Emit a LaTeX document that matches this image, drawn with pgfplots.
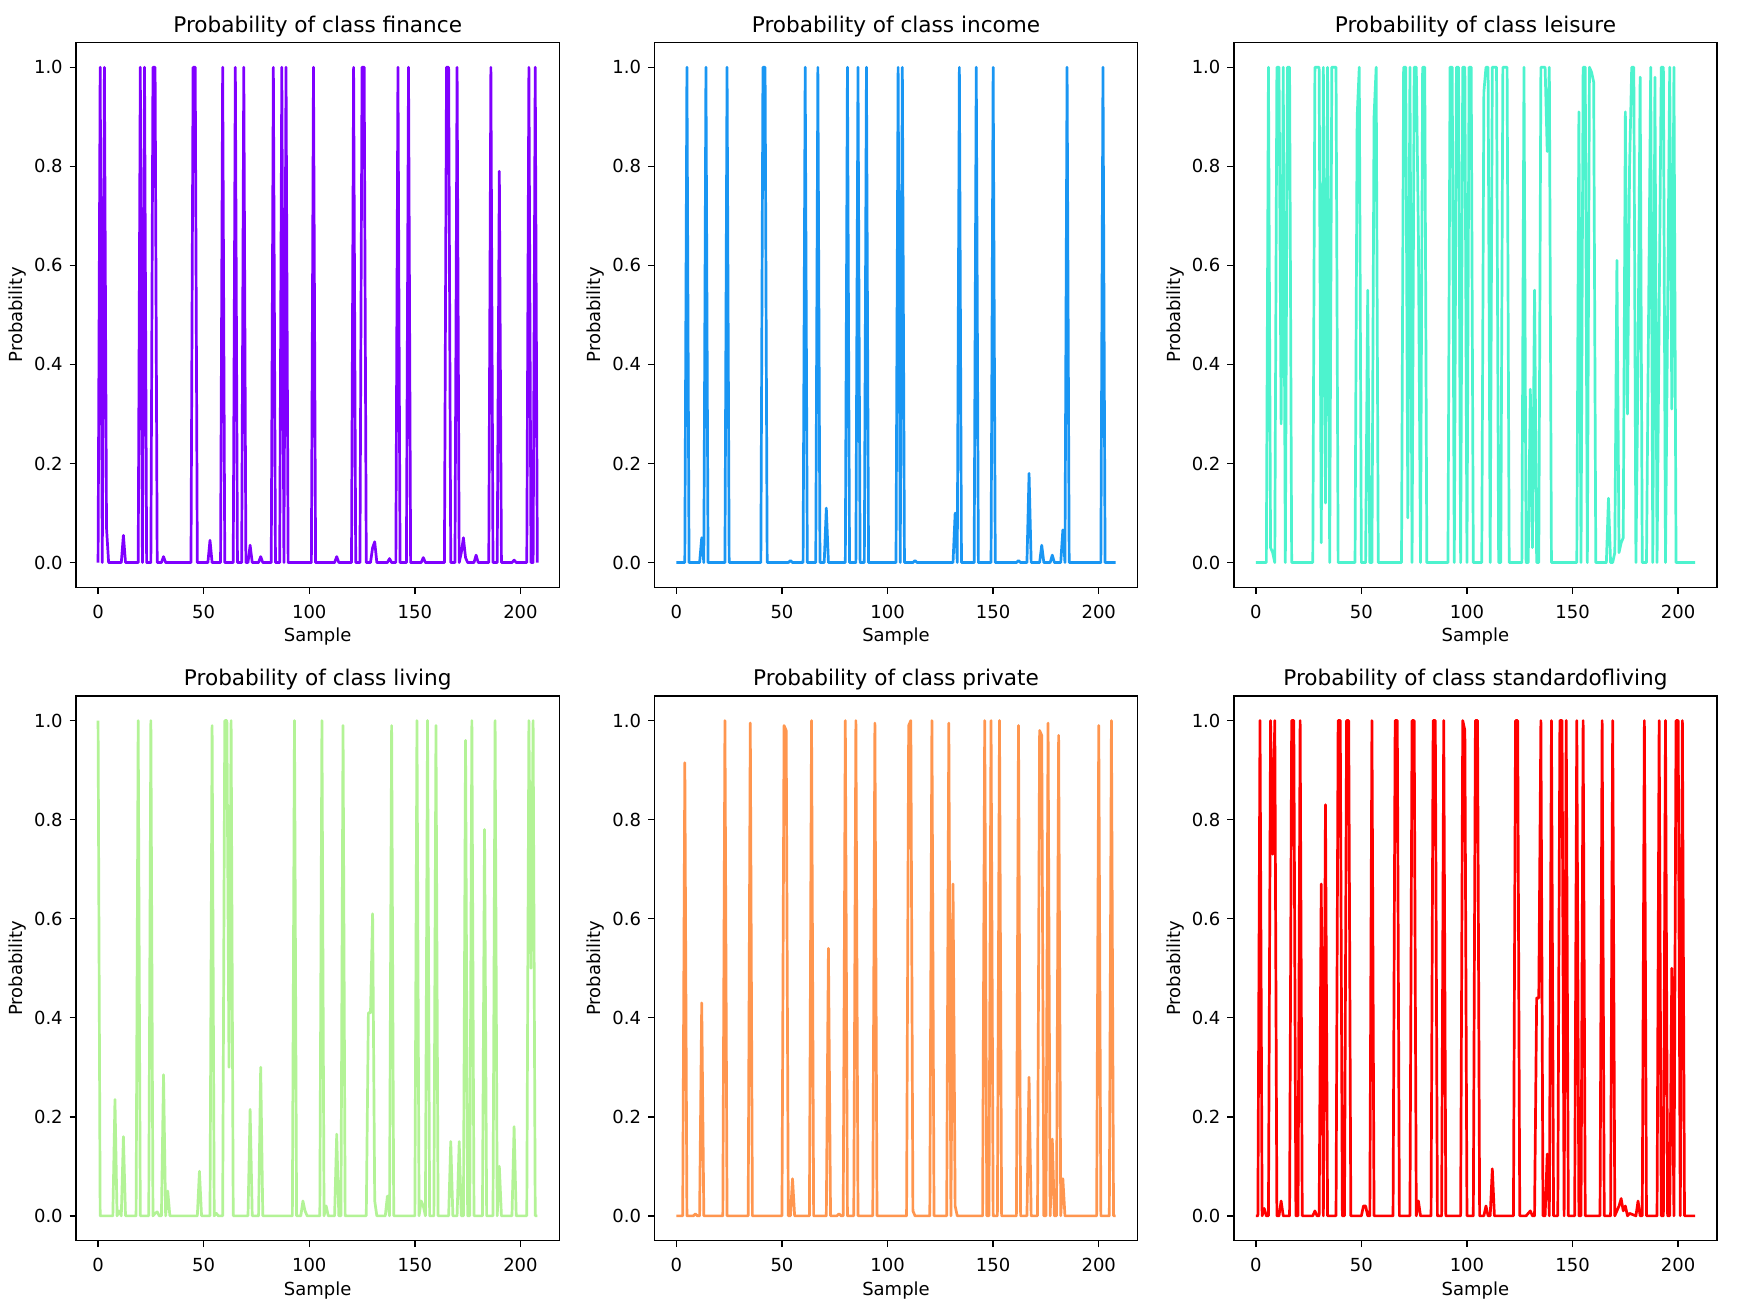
\documentclass[border=0pt]{standalone}
\usepackage{pgfplots}
\pgfplotsset{compat=1.18}
\usepackage{fontspec}
\setmainfont{DejaVu Sans}
\definecolor{cA}{HTML}{8000FF}
\definecolor{cB}{HTML}{1996F3}
\definecolor{cC}{HTML}{4DF3CE}
\definecolor{cD}{HTML}{B3F396}
\definecolor{cE}{HTML}{FF964F}
\definecolor{cF}{HTML}{FF0000}
\pgfplotsset{
  myax/.style={
    scale only axis, width=241.6pt, height=272.4pt, anchor=north west,
    xmin=-10.4, xmax=218.4, ymin=-0.05, ymax=1.05,
    xtick={0,50,100,150,200}, ytick={0,0.2,0.4,0.6,0.8,1.0},
    tick align=outside, tick pos=left, major tick length=3.2pt,
    every tick/.style={black, line width=0.72pt},
    axis line style={black, line width=0.72pt},
    /pgf/number format/assume math mode=true,
    y tick label style={/pgf/number format/fixed, /pgf/number format/fixed zerofill, /pgf/number format/precision=1},
    tick label style={font=\fontsize{9}{10}\selectfont, inner sep=0pt},
    xticklabel style={anchor=base, yshift=-12.3pt},
    yticklabel style={anchor=east, xshift=-3.3pt},
    title style={font=\fontsize{10.8}{12}\selectfont, at={(axis description cs:0.5,1)}, anchor=base, yshift=-0.8pt},
    xlabel=Sample, ylabel=Probability,
    label style={font=\fontsize{9}{10}\selectfont},
    xlabel style={at={(axis description cs:0.5,0)}, anchor=base, yshift=-27.2pt},
    ylabel style={at={(axis description cs:-0.121,0.5)}, anchor=center},
  },
  myline/.style={line width=1.35pt, line join=round, mark=none},
}
\begin{document}
\begin{tikzpicture}
\fill[white] (0,0) rectangle (877pt,-653pt);
\path[use as bounding box] (0,0) rectangle (877pt,-653pt);

\begin{axis}[myax, at={(38.05pt,-21.25pt)}, title={Probability of class finance}]
\addplot[myline, cA] coordinates {(0,0)(1,1)(2,0)(3,1)(4,0.07)(5,0)(11,0)(12,0.055)(13,0)(19,0)(20,1)(21,0)(22,1)(23,0)(25,0)(26,1)(27,1)(28,0)(30,0)(31,0.012)(32,0)(44,0)(45,1)(46,1)(47,0)(52,0)(53,0.045)(54,0)(58,0)(59,1)(60,0)(64,0)(65,1)(66,0)(68,0)(69,1)(70,0)(71,0)(72,0.035)(73,0)(76,0)(77,0.012)(78,0)(82,0)(83,1)(84,0)(86,0)(87,1)(88,0)(89,1)(90,0)(101,0)(102,1)(103,0)(112,0)(113,0.012)(114,0)(120,0)(121,1)(122,0)(124,0)(125,1)(126,1)(127,0)(129,0)(130,0.03)(131,0.042)(132,0)(137,0)(138,0.008)(139,0)(141,0)(142,1)(143,0)(146,0)(147,1)(148,0)(153,0)(154,0.01)(155,0)(164,0)(165,1)(166,1)(167,0)(169,0)(170,1)(171,0)(172,0.02)(173,0.05)(174,0.01)(175,0)(178,0)(179,0.015)(180,0)(185,0)(186,1)(187,0)(189,0)(190,0.79)(191,0)(196,0)(197,0.005)(198,0)(203,0)(204,1)(205,0)(206,0)(207,1)(208,0)};
\end{axis}

\begin{axis}[myax, at={(327.2pt,-21.25pt)}, title={Probability of class income}]
\addplot[myline, cB] coordinates {(0,0)(4,0)(5,1)(6,0)(11,0)(12,0.05)(13,0)(14,1)(15,0)(23,0)(24,1)(25,0)(40,0)(41,1)(42,1)(43,0)(53,0)(54,0.004)(55,0)(60,0)(61,1)(62,0)(66,0)(67,1)(68,0)(70,0)(71,0.11)(72,0)(80,0)(81,1)(82,0)(85,0)(86,1)(87,0)(89,0)(90,1)(91,0)(104,0)(105,1)(106,0)(107,1)(108,0)(112,0)(113,0.004)(114,0)(131,0)(132,0.1)(133,0)(134,1)(135,0)(141,0)(142,1)(143,0)(149,0)(150,1)(151,0)(161,0)(162,0.004)(163,0)(166,0)(167,0.18)(168,0)(172,0)(173,0.035)(174,0)(177,0)(178,0.015)(179,0)(182,0)(183,0.066)(184,0)(185,1)(186,0)(201,0)(202,1)(203,0)(208,0)};
\end{axis}

\begin{axis}[myax, at={(616.9pt,-21.25pt)}, title={Probability of class leisure}]
\addplot[myline, cC] coordinates {(0,0)(5,0)(6,1)(7,0.03)(8,0.02)(9,0)(10,1)(11,1)(12,0.28)(13,1)(14,0)(15,1)(16,1)(17,0)(27,0)(28,1)(29,1)(30,1)(31,0.04)(32,1)(33,0.12)(34,1)(35,0)(36,1)(37,1)(38,1)(39,0)(47,0)(48,0.9)(49,1)(50,0)(52,0)(53,0.55)(54,0)(55,0)(56,0.9)(57,1)(58,0)(69,0)(70,1)(71,1)(72,0.09)(73,1)(74,0)(75,1)(76,1)(77,0.66)(78,0)(79,1)(80,1)(81,0)(91,0)(92,1)(93,1)(94,0)(95,1)(96,1)(97,0)(98,1)(99,1)(100,0)(101,1)(102,1)(103,0)(107,0)(108,0.95)(109,1)(110,1)(111,0)(112,1)(113,1)(114,1)(115,0)(116,0)(117,1)(118,1)(119,1)(120,0)(126,0)(127,1)(128,0)(129,0)(130,0.35)(131,0.03)(132,0.55)(133,0)(134,0)(135,1)(136,1)(137,1)(138,0.83)(139,1)(140,0)(152,0)(153,0.91)(154,0)(155,1)(156,1)(157,0)(158,1)(159,0.99)(160,0.97)(161,0)(166,0)(167,0.13)(168,0)(169,0)(170,0.02)(171,0.61)(172,0.02)(173,0.04)(174,0.05)(175,0.91)(176,0.3)(177,0.8)(178,1)(179,1)(180,0)(181,0.4)(182,0.98)(183,0)(185,0)(186,0.5)(187,1)(188,0)(189,0.98)(190,0)(191,0.5)(192,1)(193,1)(194,0)(195,0.5)(196,1)(197,0.31)(198,1)(199,0)(208,0)};
\end{axis}

\begin{axis}[myax, at={(38.05pt,-347.9pt)}, title={Probability of class living}]
\addplot[myline, cD] coordinates {(0,1)(1,0)(7,0)(8,0.235)(9,0)(10,0.01)(11,0)(12,0.16)(13,0)(18,0)(19,1)(20,0)(24,0)(25,1)(26,0)(27,0.005)(28,0.008)(29,0)(30,0)(31,0.285)(32,0)(33,0.05)(34,0)(47,0)(48,0.09)(49,0)(53,0)(54,0.99)(55,0)(56,0.005)(57,0)(59,0)(60,1)(61,1)(62,0.3)(63,1)(64,0)(71,0)(72,0.215)(73,0)(76,0)(77,0.3)(78,0)(92,0)(93,1)(94,0)(96,0)(97,0.03)(98,0.01)(99,0)(105,0)(106,1)(107,0)(108,0.02)(109,0)(112,0)(113,0.165)(114,0)(115,0)(116,0.99)(117,0)(127,0)(128,0.41)(129,0.41)(130,0.61)(131,0.03)(132,0)(136,0)(137,0.04)(138,0)(139,0.99)(140,0)(150,0)(151,1)(152,0)(153,0.03)(154,0.02)(155,0)(156,1)(157,0)(159,0)(160,0.99)(161,0)(166,0)(167,0.15)(168,0)(170,0)(171,0.15)(172,0)(173,0)(174,0.96)(175,0)(176,0)(177,1)(178,0)(182,0)(183,0.78)(184,0)(187,0)(188,1)(189,0)(190,0.1)(191,0)(196,0)(197,0.18)(198,0)(203,0)(204,1)(205,0.5)(206,1)(207,0)(208,0)};
\end{axis}

\begin{axis}[myax, at={(327.2pt,-347.9pt)}, title={Probability of class private}]
\addplot[myline, cE] coordinates {(0,0)(3,0)(4,0.915)(5,0)(8,0)(9,0.004)(10,0)(11,0)(12,0.43)(13,0)(22,0)(23,1)(24,0)(34,0)(35,0.995)(36,0)(50,0)(51,0.99)(52,0.98)(53,0)(54,0)(55,0.075)(56,0)(63,0)(64,1)(65,0)(71,0)(72,0.54)(73,0)(76,0)(77,0.004)(78,0)(79,0)(80,1)(81,0)(84,0)(85,1)(86,0)(93,0)(94,0.995)(95,0)(109,0)(110,0.99)(111,1)(112,0.01)(113,0)(120,0)(121,1)(122,0)(128,0)(129,0.995)(130,0)(131,0.67)(132,0.02)(133,0)(145,0)(146,1)(147,0)(148,0)(149,1)(150,0)(152,0)(153,1)(154,0)(161,0)(162,0.99)(163,0)(166,0)(167,0.28)(168,0)(171,0)(172,0.98)(173,0.97)(174,0)(175,0)(176,0.995)(177,0)(178,0.155)(179,0)(180,0)(181,0.97)(182,0)(183,0.075)(184,0)(199,0)(200,0.99)(201,0)(205,0)(206,1)(207,0)(208,0)};
\end{axis}

\begin{axis}[myax, at={(616.9pt,-347.9pt)}, title={Probability of class standardofliving}]
\addplot[myline, cF] coordinates {(0,0)(1,0)(2,1)(3,0)(4,0.015)(5,0)(6,0)(7,1)(8,0.73)(9,1)(10,0)(11,0)(12,0.03)(13,0)(16,0)(17,1)(18,1)(19,0)(20,0)(21,1)(22,0)(27,0)(28,0.01)(29,0)(30,0)(31,0.67)(32,0)(33,0.83)(34,0)(38,0)(39,1)(40,1)(41,0)(42,0)(43,1)(44,1)(45,0)(50,0)(51,0.02)(52,0.02)(53,0)(54,0)(55,1)(56,0)(65,0)(66,1)(67,1)(68,0)(73,0)(74,1)(75,1)(76,0)(77,0.03)(78,0)(83,0)(84,1)(85,1)(86,0)(88,0)(89,1)(90,0)(97,0)(98,1)(99,0.98)(100,0)(103,0)(104,1)(105,1)(106,0)(108,0)(109,0.02)(110,0)(111,0)(112,0.095)(113,0)(122,0)(123,1)(124,1)(125,0)(128,0)(129,0.005)(130,0.01)(131,0)(132,0)(133,0.44)(134,0.44)(135,1)(136,0)(137,0)(138,0.125)(139,0)(140,1)(141,0)(143,0)(144,1)(145,1)(146,0)(147,1)(148,0)(151,0)(152,1)(153,0)(154,0)(155,1)(156,0)(163,0)(164,1)(165,0)(168,0)(169,1)(170,0)(171,0.01)(172,0.02)(173,0.035)(174,0.01)(175,0.02)(176,0)(177,0.005)(180,0)(181,0.03)(182,0)(183,0)(184,1)(185,0)(190,0)(191,1)(192,0)(193,0)(194,1)(195,0)(196,0)(197,0.5)(198,0)(199,1)(200,1)(201,0)(202,1)(203,0)(208,0)};
\end{axis}
\end{tikzpicture}
\end{document}
